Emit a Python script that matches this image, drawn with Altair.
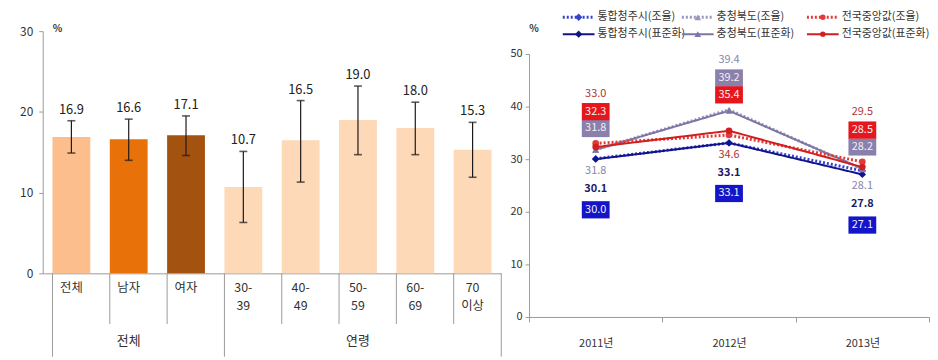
import altair as alt
import pandas as pd

FONT = "Noto Sans CJK KR"

# ---------------- left panel data ----------------
categories = ["전체", "남자", "여자", "30-39", "40-49", "50-59", "60-69", "70이상"]
cat_labels = ["전체", "남자", "여자", "30-\n39", "40-\n49", "50-\n59", "60-\n69", "70\n이상"]
groups = ["전체", "전체", "전체", "연령", "연령", "연령", "연령", "연령"]
rates = [16.9, 16.6, 17.1, 10.7, 16.5, 19.0, 18.0, 15.3]
ci_low = [14.9, 14.0, 14.6, 6.3, 11.3, 14.7, 14.7, 11.9]
ci_high = [18.9, 19.1, 19.5, 15.1, 21.4, 23.2, 21.2, 18.7]
bar_colors = ["#FBBE8C", "#E8710A", "#A3520F", "#FDD9B8", "#FDD9B8", "#FDD9B8", "#FDD9B8", "#FDD9B8"]

# ---------------- right panel data ----------------
years = ["2011년", "2012년", "2013년"]
cheongju_crude = [30.1, 33.1, 27.8]
cheongju_std = [30.0, 33.1, 27.1]
chungbuk_crude = [31.8, 39.4, 28.1]
chungbuk_std = [31.8, 39.2, 28.2]
national_crude = [33.0, 34.6, 29.5]
national_std = [32.3, 35.4, 28.5]

regions = ["통합청주시", "충청북도", "전국중앙값"]
kinds = ["조율", "표준화"]
series_values = {
    ("통합청주시", "조율"): cheongju_crude,
    ("통합청주시", "표준화"): cheongju_std,
    ("충청북도", "조율"): chungbuk_crude,
    ("충청북도", "표준화"): chungbuk_std,
    ("전국중앙값", "조율"): national_crude,
    ("전국중앙값", "표준화"): national_std,
}

# ================= LEFT CHART =================
LW = 462
AX = 221          # pixel row of the x axis (value 0) inside the plot box
TOP = -23         # pixel row of value 30 (above the shared row origin)
AXC = "#9a9a9a"
line1 = [s.split("\n")[0] for s in cat_labels]
line2 = [s.split("\n")[1] if "\n" in s else "" for s in cat_labels]
left_df = pd.DataFrame({"cat": categories, "l1": line1, "l2": line2, "group": groups,
                        "rate": rates, "lo": ci_low, "hi": ci_high})
xcat = alt.X("cat:N", sort=categories,
             scale=alt.Scale(paddingInner=0.34, paddingOuter=0.17),
             axis=alt.Axis(labels=False, ticks=False, title=None, domainColor=AXC))
xc = alt.X("cat:N", sort=categories)
lbase = alt.Chart(left_df)

bars = lbase.mark_bar().encode(
    x=xcat,
    y=alt.Y("rate:Q", scale=alt.Scale(domain=[0, 30], range=[AX, TOP]),
            axis=alt.Axis(values=[0, 10, 20, 30], title=None, grid=False, tickSize=4,
                          labelPadding=6, domainColor=AXC, tickColor=AXC,
                          labelFontSize=12, labelColor="#333333")),
    color=alt.Color("cat:N", sort=categories,
                    scale=alt.Scale(domain=categories, range=bar_colors), legend=None),
)
err = lbase.mark_rule(color="#1f1a1a", strokeWidth=1.2).encode(x=xc, y="lo:Q", y2="hi:Q")
cap_lo = lbase.mark_tick(color="#1f1a1a", thickness=1.6, size=8).encode(x=xc, y="lo:Q")
cap_hi = lbase.mark_tick(color="#1f1a1a", thickness=1.6, size=8).encode(x=xc, y="hi:Q")
vals = lbase.mark_text(dy=-11, fontSize=13, color="#222222").encode(
    x=xc, y="hi:Q", text=alt.Text("rate:Q", format=".1f"))
cat_text1 = lbase.mark_text(baseline="middle", fontSize=12.5, color="#333333").encode(
    x=xc, y=alt.value(AX + 15), text="l1:N")
cat_text2 = alt.Chart(left_df[left_df["l2"] != ""]).mark_text(
    baseline="middle", fontSize=12.5, color="#333333").encode(
    x=xc, y=alt.value(AX + 33), text="l2:N")

first_of_group = [i == 0 or groups[i] != groups[i - 1] for i in range(len(categories))]
sep_df = pd.DataFrame({"cat": categories, "long": first_of_group})
sep_short = alt.Chart(sep_df[~sep_df["long"]]).mark_rule(color=AXC).encode(
    x=alt.X("cat:N", sort=categories, bandPosition=0), y=alt.value(AX), y2=alt.value(AX + 51))
sep_long = alt.Chart(sep_df[sep_df["long"]]).mark_rule(color=AXC).encode(
    x=alt.X("cat:N", sort=categories, bandPosition=0), y=alt.value(AX), y2=alt.value(AX + 84))
one = pd.DataFrame({"k": [0]})
sep_end = alt.Chart(one).mark_rule(color=AXC).encode(
    x=alt.value(LW), y=alt.value(AX), y2=alt.value(AX + 84))

grp_names, grp_center = [], []
for g in dict.fromkeys(groups):
    members = [c for c, gg in zip(categories, groups) if gg == g]
    grp_names.append(g)
    grp_center.append(members[len(members) // 2])
grp_df = pd.DataFrame({"cat": grp_center, "name": grp_names})
grp_text = alt.Chart(grp_df).mark_text(fontSize=13, color="#333333").encode(
    x=xc, y=alt.value(AX + 68), text="name:N")

pct_left = alt.Chart(one).mark_text(fontSize=10, fontWeight="bold", color="#333333").encode(
    x=alt.value(15), y=alt.value(TOP - 2), text=alt.value("%"))

left = alt.layer(bars, err, cap_lo, cap_hi, vals, cat_text1, cat_text2, sep_short, sep_long,
                 sep_end, grp_text, pct_left).properties(width=LW, height=AX)

# ================= RIGHT CHART =================
RW, RH = 403, 265
series_names, rows = [], []
for (reg, kind), vals_ in series_values.items():
    name = f"{reg}({kind})"
    series_names.append(name)
    for y, v in zip(years, vals_):
        rows.append({"series": name, "region": reg, "kind": kind, "year": y, "value": v})
line_df = pd.DataFrame(rows)

line_colors = {
    "통합청주시(조율)": "#3344CC", "통합청주시(표준화)": "#12128C",
    "충청북도(조율)": "#9C96BC", "충청북도(표준화)": "#7E74A6",
    "전국중앙값(조율)": "#E23A3A", "전국중앙값(표준화)": "#D21E1E",
}
shape_of = {"통합청주시": "diamond", "충청북도": "triangle-up", "전국중앙값": "circle"}
size_of = {"통합청주시": 55, "충청북도": 45, "전국중앙값": 30}
dash_of = {"조율": [2, 2], "표준화": [1, 0]}
width_of = {"조율": 3, "표준화": 2}

xr = alt.X("year:N", sort=years, bandPosition=0.5,
           scale=alt.Scale(type="band", paddingInner=0, paddingOuter=0),
           axis=alt.Axis(tickBand="extent", title=None, labelAngle=0, tickSize=5,
                         labelPadding=16, domainColor=AXC, tickColor=AXC,
                         labelFontSize=11, labelColor="#333333"))
xr2 = alt.X("year:N", sort=years, bandPosition=0.5)
yr = alt.Y("value:Q", scale=alt.Scale(domain=[0, 50]),
           axis=alt.Axis(values=[0, 10, 20, 30, 40, 50], title=None, grid=False, tickSize=4,
                         labelPadding=3, domainColor=AXC, tickColor=AXC,
                         labelFontSize=11, labelColor="#333333"))

series_color = alt.Color("series:N", scale=alt.Scale(domain=series_names,
                         range=[line_colors[s] for s in series_names]), legend=None)
lines = alt.Chart(line_df).mark_line().encode(
    x=xr, y=yr, color=series_color,
    strokeDash=alt.StrokeDash("kind:N", scale=alt.Scale(domain=kinds,
                              range=[dash_of[k] for k in kinds]), legend=None),
    strokeWidth=alt.StrokeWidth("kind:N", scale=alt.Scale(domain=kinds,
                                range=[width_of[k] for k in kinds]), legend=None),
    detail="series:N",
)
points = alt.Chart(line_df).mark_point(filled=True, opacity=1).encode(
    x=xr2, y="value:Q", color=series_color,
    shape=alt.Shape("region:N", scale=alt.Scale(domain=regions,
                    range=[shape_of[r] for r in regions]), legend=None),
    size=alt.Size("region:N", scale=alt.Scale(domain=regions,
                  range=[size_of[r] for r in regions]), legend=None),
)

# data labels: per year, sorted by value; top three stacked above the highest
# point, bottom three stacked below the lowest point
tie_order = ["전국중앙값(조율)", "전국중앙값(표준화)", "충청북도(표준화)",
             "충청북도(조율)", "통합청주시(조율)", "통합청주시(표준화)"]
rank_offsets = [-50, -32, -15, 12, 30, 51]
lab_rows = []
for i, yname in enumerate(years):
    items = [(f"{reg}({kind})", reg, kind, v[i]) for (reg, kind), v in series_values.items()]
    items.sort(key=lambda t: (-t[3], tie_order.index(t[0])))
    vmax = max(t[3] for t in items)
    vmin = min(t[3] for t in items)
    for r, (name, reg, kind, v) in enumerate(items):
        lab_rows.append({"series": name, "region": reg, "kind": kind, "year": yname,
                         "value": v, "rank": r, "anchor": vmax if r < 3 else vmin})
lab_df = pd.DataFrame(lab_rows)

text_color = {
    "전국중앙값(조율)": "#A8383A", "충청북도(조율)": "#8787A8", "통합청주시(조율)": "#1C1C6A",
}
box_color = {
    "전국중앙값(표준화)": "#E5161C", "충청북도(표준화)": "#8A80AC", "통합청주시(표준화)": "#1414C8",
}
BOX = "M-1,-0.62 L1,-0.62 L1,0.62 L-1,0.62 Z"
label_layers = []
for name in series_names:
    for r in range(len(rank_offsets)):
        sub = lab_df[(lab_df["series"] == name) & (lab_df["rank"] == r)]
        if sub.empty:
            continue
        off = rank_offsets[r]
        reg = sub["region"].iloc[0]
        kind = sub["kind"].iloc[0]
        lc = alt.Chart(sub)
        if kind == "표준화":
            label_layers.append(lc.mark_point(shape=BOX, filled=True, opacity=1, size=784,
                                              color=box_color[name], yOffset=off).encode(
                x=xr2, y="anchor:Q"))
            label_layers.append(lc.mark_text(dy=off, fontSize=11, color="#F2EEF2").encode(
                x=xr2, y="anchor:Q", text=alt.Text("value:Q", format=".1f")))
        else:
            label_layers.append(lc.mark_text(
                dy=off, fontSize=11, color=text_color[name],
                fontWeight="bold" if reg == "통합청주시" else "normal").encode(
                x=xr2, y="anchor:Q", text=alt.Text("value:Q", format=".1f")))

# custom legend above the plot
legend_layers = []
col_x = [34, 154, 280]
row_y = [-37, -20]
for (reg, kind) in series_values:
    name = f"{reg}({kind})"
    x0 = col_x[regions.index(reg)]
    y0 = row_y[kinds.index(kind)]
    legend_layers.append(alt.Chart(one).mark_rule(color=line_colors[name], strokeWidth=width_of[kind],
                                                 strokeDash=dash_of[kind]).encode(
        x=alt.value(x0), x2=alt.value(x0 + 32), y=alt.value(y0)))
    legend_layers.append(alt.Chart(one).mark_point(shape=shape_of[reg], filled=True, opacity=1,
                                                  size=size_of[reg], color=line_colors[name]).encode(
        x=alt.value(x0 + 16), y=alt.value(y0)))
    legend_layers.append(alt.Chart(one).mark_text(align="left", fontSize=11, color="#333333").encode(
        x=alt.value(x0 + 35), y=alt.value(y0), text=alt.value(name)))

pct_right = alt.Chart(one).mark_text(fontSize=10, fontWeight="bold", color="#333333").encode(
    x=alt.value(5), y=alt.value(-25), text=alt.value("%"))

right = alt.layer(lines, points, *label_layers, *legend_layers, pct_right).properties(
    width=RW, height=RH)

chart = alt.hconcat(left, right, spacing=7).resolve_scale(
    color="independent", shape="independent", size="independent",
    strokeDash="independent", strokeWidth="independent"
).properties(
    padding={"left": 11, "top": 2, "right": 0, "bottom": 0}
).configure(font=FONT).configure_view(stroke=None)

chart.save("out.html", embed_options={"renderer": "svg", "actions": False})
